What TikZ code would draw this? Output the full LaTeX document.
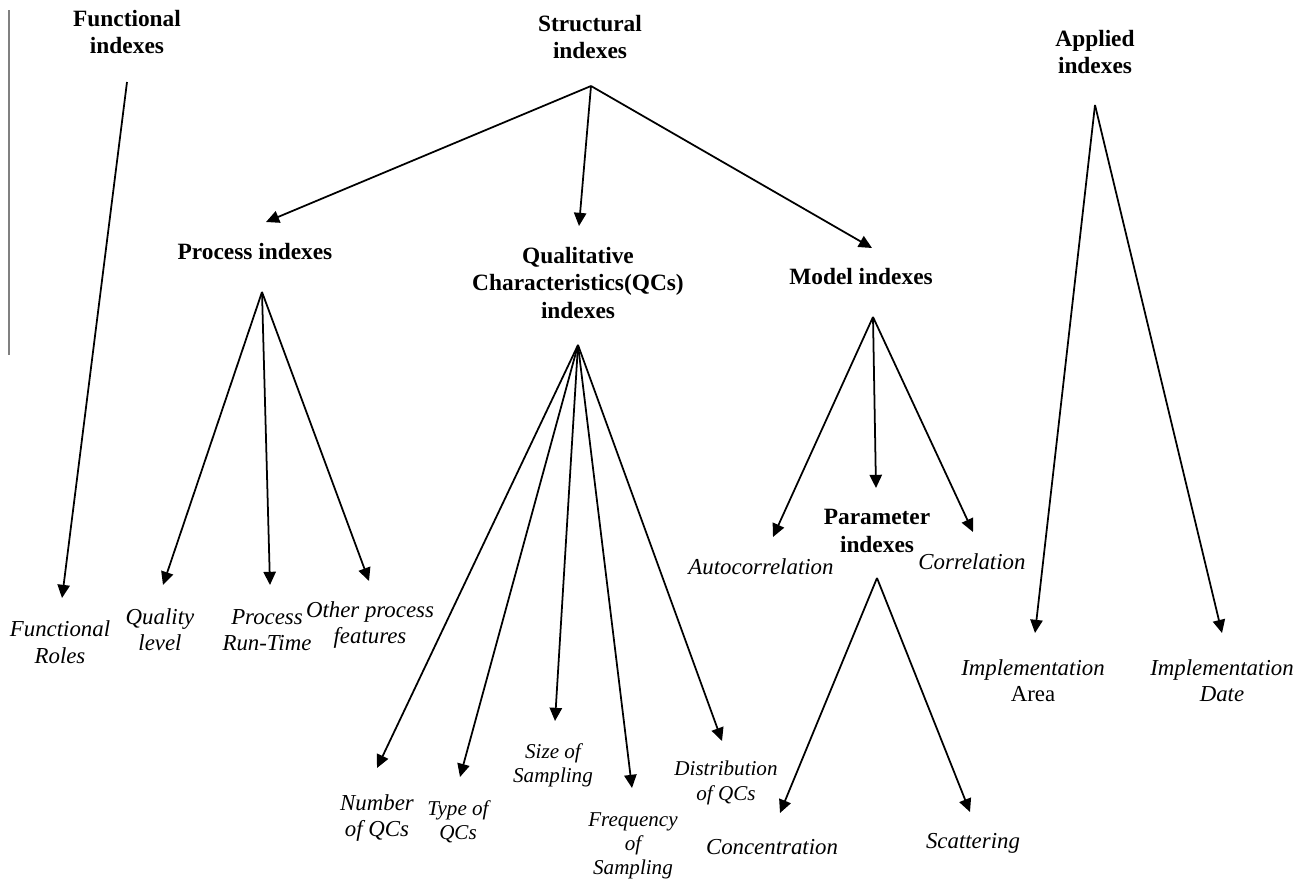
\documentclass[tikz,border=0pt]{standalone}
\usepackage{fontspec}
\setmainfont{Liberation Serif}
\usetikzlibrary{arrows.meta}
\tikzset{
  head/.style={font=\fontsize{13.3}{15.5}\selectfont\bfseries, align=center, inner sep=0pt},
  leaf/.style={font=\fontsize{13}{15}\selectfont\itshape, align=center, inner sep=0pt},
  leafqc/.style={font=\fontsize{12}{13.8}\selectfont\itshape, align=center, inner sep=0pt},
  link/.style={line width=1pt, -{Triangle[length=7.5pt,width=7pt]}},
  rule/.style={line width=0.6pt, gray}
}
\begin{document}
\begin{tikzpicture}[x=0.02cm,y=-0.02cm]
\useasboundingbox (0,0) rectangle (1309,883);

% margin rule on the left
\coordinate (ruleTop) at (9,10);
\coordinate (ruleBot) at (9,355);
\draw[rule] (ruleTop) -- (ruleBot);

% top level categories
\node[head] (func) at (127,32) {Functional\\indexes};
\node[head] (struct) at (590,37) {Structural\\indexes};
\node[head] (appl) at (1095,52) {Applied\\indexes};

% second level
\node[head] (proc) at (255,252) {Process indexes};
\node[head] (qc) at (578,283) {Qualitative\\Characteristics(QCs)\\indexes};
\node[head] (model) at (861,277) {Model indexes};
\node[head] (param) at (877,531) {Parameter\\indexes};

% leaves
\node[leaf] (roles) at (60,642) {Functional\\Roles};
\node[leaf] (qlev) at (160,630) {Quality\\level};
\node[leaf] (runt) at (267,630) {Process\\Run-Time};
\node[leaf] (other) at (370,625) {Other process\\features};
\node[leaf] (numb) at (377,818) {Number\\of QCs};
\node[leafqc] (type) at (458,822) {Type of\\QCs};
\node[leafqc] (size) at (553,765) {Size of\\Sampling};
\node[leafqc] (freq) at (633,846) {Frequency\\of\\Sampling};
\node[leafqc] (dist) at (726,783) {Distribution\\of QCs};
\node[leaf] (auto) at (761,567) {Autocorrelation};
\node[leaf] (corr) at (972,562) {Correlation};
\node[leaf] (conc) at (772,847) {Concentration};
\node[leaf] (scat) at (973,843) {Scattering};
\node[leaf] (iarea) at (1033,681) {Implementation\\{\upshape Area}};
\node[leaf] (idate) at (1222,681) {Implementation\\Date};

% branching points
\coordinate (fApex) at (127,82);
\coordinate (sApex) at (591,86);
\coordinate (aApex) at (1095,105);
\coordinate (pApex) at (262,292);
\coordinate (qApex) at (578,345);
\coordinate (mApex) at (873,317);
\coordinate (rApex) at (877,578);

% arrow ends
\coordinate (tRoles) at (62,598);
\coordinate (tProc) at (266,222);
\coordinate (tQc) at (579,226);
\coordinate (tModel) at (872,248);
\coordinate (tQlev) at (163,585);
\coordinate (tRunt) at (270,585);
\coordinate (tOther) at (369,581);
\coordinate (tNumb) at (377,768);
\coordinate (tType) at (460,777);
\coordinate (tSize) at (555,721);
\coordinate (tFreq) at (632,788);
\coordinate (tDist) at (722,741);
\coordinate (tAuto) at (773,537);
\coordinate (tParam) at (876,488);
\coordinate (tCorr) at (973,532);
\coordinate (tConc) at (780,813);
\coordinate (tScat) at (970,812);
\coordinate (tArea) at (1035,633);
\coordinate (tDate) at (1222,633);

% functional branch
\draw[link] (fApex) -- (tRoles);

% structural branch
\draw[link] (sApex) -- (tProc);
\draw[link] (sApex) -- (tQc);
\draw[link] (sApex) -- (tModel);

% process indexes
\draw[link] (pApex) -- (tQlev);
\draw[link] (pApex) -- (tRunt);
\draw[link] (pApex) -- (tOther);

% QC indexes
\draw[link] (qApex) -- (tNumb);
\draw[link] (qApex) -- (tType);
\draw[link] (qApex) -- (tSize);
\draw[link] (qApex) -- (tFreq);
\draw[link] (qApex) -- (tDist);

% model indexes
\draw[link] (mApex) -- (tAuto);
\draw[link] (mApex) -- (tParam);
\draw[link] (mApex) -- (tCorr);

% parameter indexes
\draw[link] (rApex) -- (tConc);
\draw[link] (rApex) -- (tScat);

% applied indexes
\draw[link] (aApex) -- (tArea);
\draw[link] (aApex) -- (tDate);
\end{tikzpicture}
\end{document}
